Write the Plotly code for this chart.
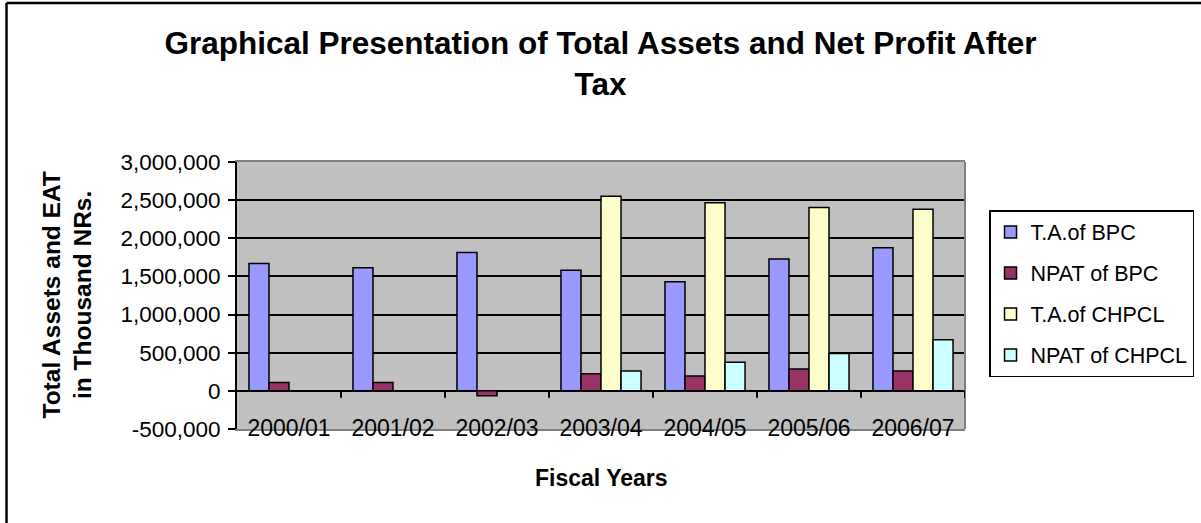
import plotly.graph_objects as go

# Fiscal years and values (thousand NRs.)
years = ["2000/01", "2001/02", "2002/03", "2003/04", "2004/05", "2005/06", "2006/07"]
ta_bpc = [1670000, 1615000, 1815000, 1580000, 1430000, 1730000, 1875000]
npat_bpc = [110000, 110000, -65000, 225000, 195000, 285000, 260000]
ta_chpcl = [None, None, None, 2550000, 2465000, 2405000, 2380000]
npat_chpcl = [None, None, None, 260000, 375000, 490000, 670000]

series_names = ["T.A.of BPC", "NPAT of BPC", "T.A.of CHPCL", "NPAT of CHPCL"]
series_values = [ta_bpc, npat_bpc, ta_chpcl, npat_chpcl]
series_colors = ["#9999FF", "#993366", "#FFFFCC", "#CCFFFF"]

y_ticks = [-500000, 0, 500000, 1000000, 1500000, 2000000, 2500000, 3000000]

FONT = "Arial, Liberation Sans, sans-serif"

fig = go.Figure()
for i, (name, vals, col) in enumerate(zip(series_names, series_values, series_colors)):
    fig.add_trace(go.Bar(
        x=years, y=vals, name=name, legendgroup=f"g{i}",
        marker=dict(color=col, line=dict(color="black", width=1.5)),
    ))

# Outer chart frame (top and left edges)
shapes = [
    dict(type="line", xref="paper", yref="paper", x0=-0.3166, x1=1.4, y0=1.5955, y1=1.5955,
         line=dict(color="black", width=2.5)),
    dict(type="line", xref="paper", yref="paper", x0=-0.3166, x1=-0.3166, y0=-0.4, y1=1.5955,
         line=dict(color="black", width=2.5)),
    # right edge of plot area
    dict(type="line", xref="paper", yref="paper", x0=1, x1=1, y0=0, y1=1,
         line=dict(color="#808080", width=2)),
]
# Category-boundary ticks on the zero line
for k in range(1, len(years) + 1):
    shapes.append(dict(type="line", xref="x", yref="y", ysizemode="pixel", yanchor=0,
                       x0=k - 0.5, x1=k - 0.5, y0=0, y1=-7,
                       line=dict(color="black", width=2)))

fig.update_layout(
    width=1201, height=523,
    margin=dict(l=237, r=236, t=162, b=94, autoexpand=False),
    paper_bgcolor="white",
    plot_bgcolor="#C0C0C0",
    barmode="group", bargap=0.23, bargroupgap=0,
    font=dict(family=FONT, color="black", size=23),
    title=dict(
        text="<b>Graphical Presentation of Total Assets and Net Profit After<br>Tax</b>",
        x=0.5, xref="container", xanchor="center",
        y=0.897, yref="container", yanchor="top",
        font=dict(size=31.5, family=FONT, color="black"),
    ),
    xaxis=dict(
        type="category", range=[-0.5, len(years) - 0.5],
        showgrid=False, ticks="", showline=True, mirror=True,
        linecolor="#808080", linewidth=2,
        tickfont=dict(size=23), ticklabelstandoff=-23,
        fixedrange=True,
    ),
    yaxis=dict(
        range=[-500000, 3000000], tickvals=y_ticks,
        ticktext=[f"{v:,}" for v in y_ticks],
        showgrid=True, gridcolor="black", gridwidth=1.5,
        zeroline=True, zerolinecolor="black", zerolinewidth=2,
        showline=True, linecolor="black", linewidth=2,
        ticks="outside", ticklen=7, tickwidth=2, tickcolor="black",
        tickfont=dict(size=22.5), ticklabelstandoff=3,
        fixedrange=True,
    ),
    legend=dict(
        x=1.033, y=0.82, xanchor="left", yanchor="top",
        bgcolor="white", bordercolor="black", borderwidth=1.5,
        font=dict(size=21.5, family=FONT),
        tracegroupgap=10, traceorder="grouped",
    ),
    annotations=[
        dict(text="<b>Fiscal Years</b>", xref="paper", yref="paper",
             x=0.5, y=-0.1835, xanchor="center", yanchor="middle",
             showarrow=False, font=dict(size=23)),
        dict(text="<b>Total Assets and EAT<br>in Thousand NRs.</b>", xref="paper", yref="paper",
             x=-0.2335, y=0.5, xanchor="center", yanchor="middle", textangle=-90,
             showarrow=False, font=dict(size=24.5)),
    ],
    shapes=shapes,
)

fig.write_html("out.html")
